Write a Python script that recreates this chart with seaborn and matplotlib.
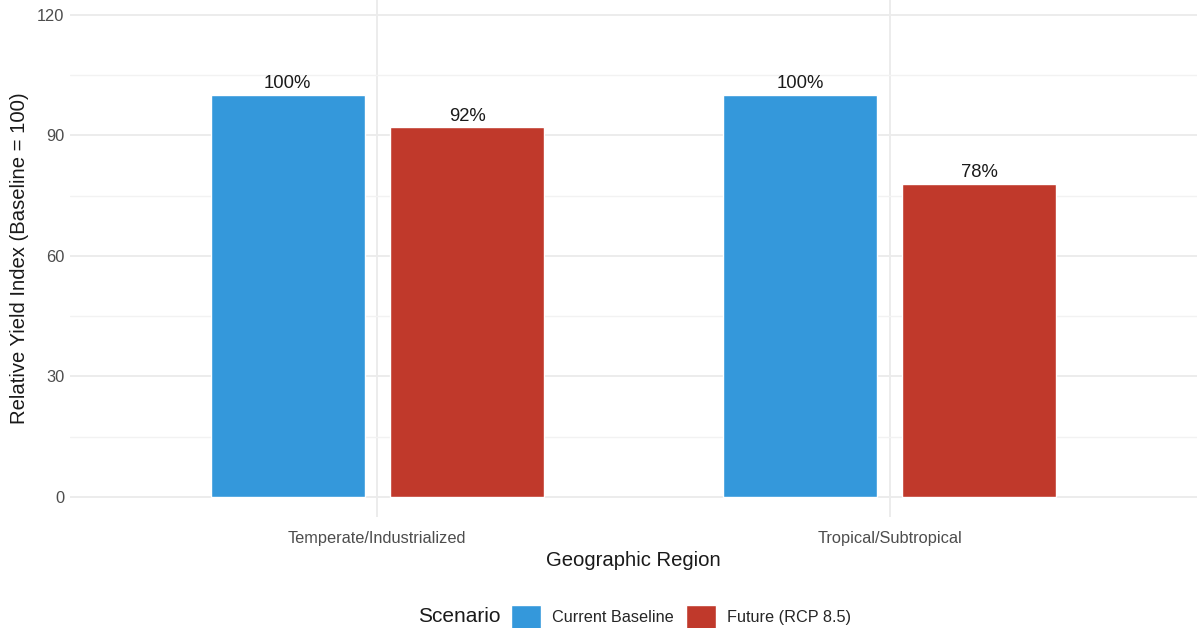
import matplotlib
matplotlib.use("Agg")
import matplotlib.pyplot as plt
import seaborn as sns
import pandas as pd
from matplotlib.ticker import MultipleLocator

regions = ["Temperate/Industrialized", "Tropical/Subtropical"]
scenarios = ["Current Baseline", "Future (RCP 8.5)"]
baseline_yield = [100, 100]
future_yield = [92, 78]

palette = {"Current Baseline": "#3498DB", "Future (RCP 8.5)": "#C0392B"}

df = pd.DataFrame({
    "region": regions * 2,
    "scenario": [scenarios[0]] * 2 + [scenarios[1]] * 2,
    "yield": baseline_yield + future_yield,
})

sns.set_theme(style="whitegrid")
plt.rcParams["font.family"] = ["Liberation Sans", "DejaVu Sans"]

fig = plt.figure(figsize=(12, 6.28), dpi=100)
ax = fig.add_axes([70 / 1200, 111 / 628, 1127 / 1200, 517 / 628])

sns.barplot(data=df, x="region", y="yield", hue="scenario", order=regions,
            hue_order=scenarios, palette=palette, width=0.7, gap=0.143,
            saturation=1, ax=ax)

for cont in ax.containers:
    ax.bar_label(cont, fmt="%.0f%%", padding=2, fontsize=13.3, color="#1a1a1a")

ax.set_xlim(-0.6, 1.6)
ax.set_ylim(-5, 123.7)
ax.yaxis.set_major_locator(MultipleLocator(30))
ax.yaxis.set_minor_locator(MultipleLocator(15))
ax.grid(True, which="major", color="#EBEBEB", linewidth=1.3)
ax.grid(True, which="minor", axis="y", color="#F2F2F2", linewidth=1.0)
ax.set_axisbelow(True)
sns.despine(ax=ax, left=True, bottom=True)

ax.tick_params(axis="both", which="both", length=0, labelsize=11.8,
               labelcolor="#4D4D4D")
ax.tick_params(axis="y", pad=4)
ax.tick_params(axis="x", pad=10)
ax.set_xlabel("Geographic Region", fontsize=14.6, color="#1a1a1a", labelpad=4)
ax.set_ylabel("Relative Yield Index (Baseline = 100)", fontsize=14.6,
              color="#1a1a1a", labelpad=6)

handles, labels = ax.get_legend_handles_labels()
ax.get_legend().remove()
fig.legend(handles, labels, loc="center left", bbox_to_anchor=(511 / 1200, 1 - 617 / 628),
           ncol=2, frameon=False, fontsize=11.7, handlelength=1.85, handleheight=1.9,
           handletextpad=0.68, columnspacing=0.74, borderaxespad=0, borderpad=0)
fig.text(418 / 1200, 1 - 617 / 628, "Scenario", fontsize=15, color="#1a1a1a",
         va="center", ha="left")

fig.savefig("out.png", dpi=100)
